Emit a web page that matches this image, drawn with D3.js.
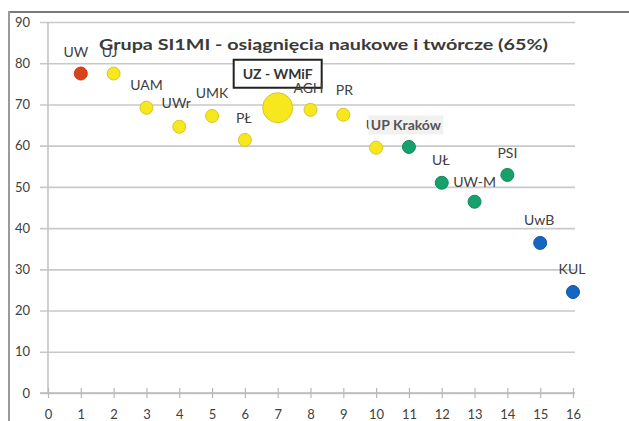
<!DOCTYPE html>
<html><head><meta charset="utf-8">
<script src="https://cdn.jsdelivr.net/npm/d3@7"></script>
<style>body{margin:0;background:#fff}svg{display:block}</style>
</head><body><svg id="c" width="629" height="421"></svg>
<script>
const xs = [1,2,3,4,5,6,7,8,9,10,11,12,13,14,15,16];
const values = [77.5,77.5,69.2,64.6,67.2,61.4,69.2,68.7,67.5,59.5,59.7,51,46.4,52.9,36.4,24.5];
const names = ["UW","UJ","UAM","UWr","UMK","PŁ","UZ - WMiF","AGH","PR","UP","UP Kraków","UŁ","UW-M","PSI","UwB","KUL"];
const groups = ["red","yellow","yellow","yellow","yellow","yellow","yellow","yellow","yellow","yellow","green","green","green","green","blue","blue"];
const xTicks = [0,1,2,3,4,5,6,7,8,9,10,11,12,13,14,15,16];
const yTicks = [0,10,20,30,40,50,60,70,80,90];
const title = "Grupa SI1MI - osiągnięcia naukowe i twórcze (65%)";

// layout (label offsets in px)
const labelOff = [[-5,-22],[-4,-22],[0,-23],[-3,-24],[0,-23],[-1,-22],[0,-34],[-2,-22],[1,-25],[-1,-23],[-3,-22],[-1,-23],[0,-20],[0,-22],[-1,-23],[-1,-24]];
const colors = {red:["#d9431c","#c23a15"], yellow:["#f7e81e","#d6c52a"], green:["#16a06b","#11875a"], blue:["#1466c2","#0f55a5"]};

const svg = d3.select("#c");
const x = d3.scaleLinear().domain([0,16]).range([48,573]);
const y = d3.scaleLinear().domain([0,90]).range([393,22]);

// frame
svg.append("line").attr("x1",9).attr("x2",629).attr("y1",12).attr("y2",12).attr("stroke","#7a7a7a").attr("stroke-width",2);
svg.append("line").attr("x1",9).attr("x2",9).attr("y1",11).attr("y2",421).attr("stroke","#9a9a9a").attr("stroke-width",2);

// grid
const yAxis = d3.axisLeft(y).tickValues(yTicks).tickSize(-(x(16)-x(0)+2)).tickPadding(12).tickFormat(d3.format("d"));
const gy = svg.append("g").attr("transform",`translate(${x(0)},0)`).call(yAxis);
gy.select(".domain").remove();
gy.selectAll(".tick line").attr("stroke","#c9c9c9").attr("stroke-width",1.6).attr("x1",-8);
gy.selectAll(".tick text").attr("font-family","Lato, sans-serif").attr("font-size",13).attr("fill","#404040").attr("x",-18);
svg.append("line").attr("x1",x(0)).attr("x2",x(0)).attr("y1",y(90)).attr("y2",y(0)).attr("stroke","#c4c4c4").attr("stroke-width",1.6);

const gx = svg.append("g").attr("transform",`translate(0,${y(0)})`).call(d3.axisBottom(x).tickValues(xTicks).tickSize(5).tickPadding(12).tickFormat(d3.format("d")));
gx.select(".domain").remove();
svg.append("line").attr("x1",x(0)-8).attr("x2",x(16)+2).attr("y1",y(0)).attr("y2",y(0)).attr("stroke","#b8b8b8").attr("stroke-width",1.6);
gx.selectAll(".tick line").attr("stroke","#b8b8b8").attr("stroke-width",1.2).attr("y1",-5).attr("y2",5);
gx.selectAll(".tick text").attr("font-family","Lato, sans-serif").attr("font-size",13).attr("fill","#404040");

const data = xs.map((d,i)=>({x:d,v:values[i],name:names[i],g:groups[i],off:labelOff[i],big:i===6}));

// points
svg.append("g").selectAll("circle").data(data).join("circle")
  .attr("cx",d=>x(d.x)).attr("cy",d=>y(d.v)).attr("r",d=>d.big?15:6.5)
  .attr("fill",d=>colors[d.g][0]).attr("stroke",d=>colors[d.g][1]).attr("stroke-width",1);

// labels
const lg = svg.append("g").attr("font-family","Lato, sans-serif").attr("font-size",14).attr("fill","#404040");
data.forEach((d,i)=>{
  const cx = x(d.x)+d.off[0], cy = y(d.v)+d.off[1];
  if(d.big){
    lg.append("rect").attr("x",cx-44).attr("y",cy-14).attr("width",88).attr("height",28).attr("fill","#fff").attr("stroke","#222").attr("stroke-width",2);
    lg.append("text").attr("x",cx).attr("y",cy).attr("text-anchor","middle").attr("dominant-baseline","central").attr("fill","#333").attr("font-weight","bold").attr("font-size",14).text(d.name);
    return;
  }
  const t = lg.append("text").attr("x",cx).attr("y",cy).attr("text-anchor","middle").attr("dominant-baseline","central").text(d.name);
  if(d.name==="UP Kraków"){
    const b = t.node().getBBox();
    lg.insert("rect","text:last-child").attr("x",b.x-3).attr("y",b.y-1).attr("width",b.width+6).attr("height",b.height+2).attr("fill","#f1f1ef");
    t.attr("font-weight","bold").attr("fill","#555");
    t.raise();
  }
});

// title
svg.append("text").attr("x",99).attr("y",50).attr("font-family","Lato, sans-serif").attr("font-weight","bold").attr("font-size",15)
  .attr("fill","#3a3a3a").attr("textLength",449).attr("lengthAdjust","spacingAndGlyphs").text(title);
</script></body></html>
